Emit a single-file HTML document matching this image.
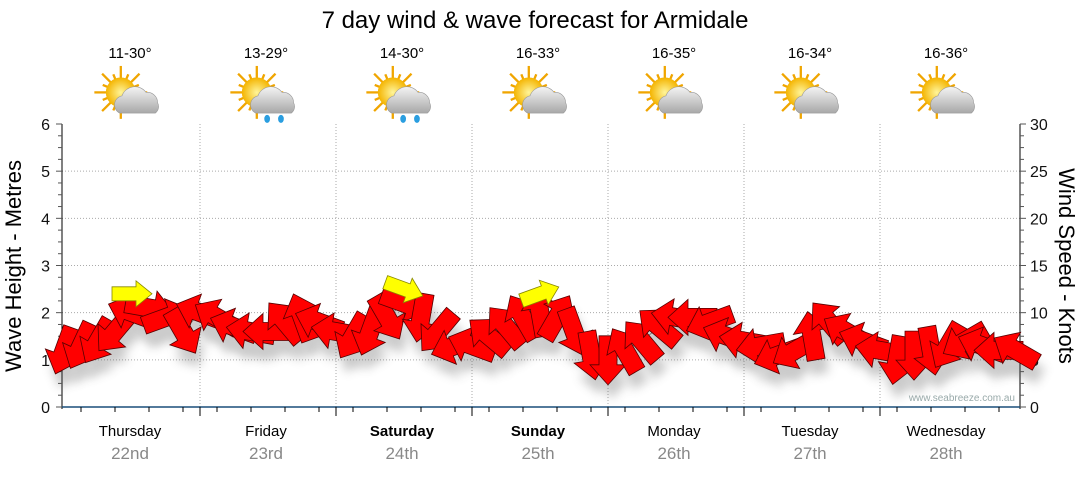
<!DOCTYPE html>
<html><head><meta charset="utf-8"><style>
body{margin:0;background:#fff;width:1080px;height:475px;overflow:hidden;font-family:"Liberation Sans","DejaVu Sans",sans-serif}
</style></head><body>
<svg id="c" width="1080" height="475" xmlns="http://www.w3.org/2000/svg" font-family="Liberation Sans, DejaVu Sans, sans-serif">
<defs><filter id="sh" x="-50%" y="-50%" width="200%" height="200%"><feGaussianBlur stdDeviation="5"/></filter>
<radialGradient id="sun" cx="50%" cy="50%" r="50%"><stop offset="0" stop-color="#fff59a"/><stop offset="1" stop-color="#f4b400"/></radialGradient>
<linearGradient id="cl" x1="0" y1="0" x2="0" y2="1"><stop offset="0" stop-color="#f4f4f4"/><stop offset="1" stop-color="#a8a8a8"/></linearGradient></defs>
<text x="535" y="28" font-size="24" text-anchor="middle" fill="#000">7 day wind &amp; wave forecast for Armidale</text>
</svg>
<script>
const days=["Thursday","Friday","Saturday","Sunday","Monday","Tuesday","Wednesday"];
const dates=["22nd","23rd","24th","25th","26th","27th","28th"];
const temps=["11-30°","13-29°","14-30°","16-33°","16-35°","16-34°","16-36°"];
const rain=[false,true,true,false,false,false,false];
const boldDays=[false,false,true,true,false,false,false];
const waveHeights=[1.2,1.3,1.4,1.6,2.0,2.1,1.9,1.6, 2.0,1.9,1.7,1.6,1.6,1.8,1.9,1.8, 1.6,1.5,1.6,1.9,2.2,1.9,1.6,1.3, 1.3,1.5,1.7,1.9,2.0,1.9,1.6,1.1, 1.0,1.2,1.4,1.7,1.9,1.9,1.8,1.5, 1.4,1.3,1.1,1.2,1.5,1.8,1.6,1.4, 1.2,1.0,1.1,1.2,1.3,1.4,1.3,1.2,1.2];
const windDirs=[110,115,120,130,200,10,340,60, 200,210,200,190,180,230,250,200, 190,120,110,60,20,100,130,160, 200,220,230,240,260,300,70,80, 90,240,230,220,190,180,160,200, 190,170,160,150,260,230,210,200, 190,100,90,80,120,150,200,180,210];
const swellTimes=[12,60,84];
const swellHeights=[2.4,2.5,2.4];
const swellDirs=[0,20,-20];
const leftTicks=[0,1,2,3,4,5,6];
const rightTicks=[0,5,10,15,20,25,30];

const NS="http://www.w3.org/2000/svg",svg=document.getElementById('c');
const X0=64,DAYW=136,Y0=407,YPX=283/6,PL=62,PR=1020,PT=124;
const x=h=>X0+h*DAYW/24, y=m=>Y0-m*YPX;
function el(t,a,p){const e=document.createElementNS(NS,t);for(const k in a)e.setAttribute(k,a[k]);(p||svg).appendChild(e);return e;}
function txt(s,a){const e=el('text',a);e.textContent=s;return e;}
for(let m=1;m<=5;m++){const g=el('line',{x1:PL,x2:PR,y1:y(m),y2:y(m),stroke:'#aaa','stroke-dasharray':'1,2'});}
for(let d=1;d<7;d++){const g=el('line',{x1:x(d*24),x2:x(d*24),y1:PT,y2:Y0,stroke:'#aaa','stroke-dasharray':'1,2'});}
el('line',{x1:PL,x2:PL,y1:PT,y2:Y0+2,stroke:'#000'});
el('line',{x1:PR,x2:PR,y1:PT,y2:Y0+2,stroke:'#000'});
el('line',{x1:PL,x2:PR,y1:Y0,y2:Y0,stroke:'#1a4f7a','stroke-width':1.5});
for(let i=0;i<=24;i++){const yy=y(i/4),w=i%4==0?6:4;el('line',{x1:PL-w,x2:PL,y1:yy,y2:yy,stroke:'#555'});el('line',{x1:PR,x2:PR+w,y1:yy,y2:yy,stroke:'#555'});}
leftTicks.forEach(v=>{const t=txt(v,{x:50,y:y(v)+6,'font-size':16,'text-anchor':'end',fill:'#111'});});
rightTicks.forEach(v=>{const t=txt(v,{x:1030,y:y(v/5)+6,'font-size':16,fill:'#111'});});
for(let h=3;h<168;h+=6){const xx=x(h);if(xx<PR)el('line',{x1:xx,x2:xx,y1:Y0,y2:Y0+5,stroke:'#000'});}
for(let d=1;d<7;d++)el('line',{x1:x(d*24),x2:x(d*24),y1:Y0,y2:Y0+9,stroke:'#000'});
const lt=txt('Wave Height - Metres',{transform:'translate(21,266) rotate(-90)','font-size':22,'text-anchor':'middle'});
const rt=txt('Wind Speed - Knots',{transform:'translate(1059,266) rotate(90)','font-size':22,'text-anchor':'middle'});
const wm=txt('www.seabreeze.com.au',{x:1015,y:401,'font-size':10,'text-anchor':'end',fill:'#9aa'});
days.forEach((d,i)=>{const cx=x(i*24+12)-2;
const a=txt(d,{x:cx,y:436,'font-size':15,'text-anchor':'middle','font-weight':boldDays[i]?'bold':'normal'});
const b=txt(dates[i],{x:cx,y:459,'font-size':17,'text-anchor':'middle',fill:'#888'});
const t=txt(temps[i],{x:cx,y:58,'font-size':15,'text-anchor':'middle'});
const g=el('g',{transform:`translate(${cx},97) scale(1.15)`});
for(let r=0;r<16;r++){const an=r*Math.PI/8,L=r%2?17:23;el('line',{x1:-8+Math.cos(an)*10,y1:-4+Math.sin(an)*10,x2:-8+Math.cos(an)*L,y2:-4+Math.sin(an)*L,stroke:'#f0a500','stroke-width':2},g);}
el('circle',{cx:-8,cy:-4,r:13,fill:'url(#sun)'},g);
el('path',{d:'M-9,14 a8,8 0 0 1 2,-15 a12,12 0 0 1 21,-3 a9,9 0 0 1 10,9 a7,7 0 0 1 -2,9 z',fill:'url(#cl)',stroke:'#999','stroke-width':0.5},g);
if(rain[i]){el('ellipse',{cx:1,cy:19,rx:2.5,ry:3.5,fill:'#2a9ee0'},g);el('ellipse',{cx:13,cy:19,rx:2.5,ry:3.5,fill:'#2a9ee0'},g);}
});
let pts=waveHeights.map((v,i)=>x(i*3)+','+y(v)).join(' ');
const wl=el('polyline',{points:pts,fill:'none',stroke:'#888','stroke-width':1});
const AR='M-24,-9 L5,-9 L5,-18 L25,0 L5,18 L5,9 L-24,9 Z';
const sg=el('g',{opacity:0.3});
waveHeights.forEach((v,i)=>{el('path',{d:AR,fill:'#555',filter:'url(#sh)',transform:`translate(${x(i*3)+4},${y(v)+14}) rotate(${windDirs[i]})`},sg);});
waveHeights.forEach((v,i)=>{const p=el('path',{d:AR,fill:'#ff0000',stroke:'#500','stroke-width':0.8,transform:`translate(${x(i*3)},${y(v)}) rotate(${windDirs[i]})`});
});
swellTimes.forEach((h,i)=>{const p=el('path',{d:'M-20,-7 L4,-7 L4,-13 L20,0 L4,13 L4,7 L-20,7 Z',fill:'#ffff00',stroke:'#880','stroke-width':0.8,transform:`translate(${x(h)},${y(swellHeights[i])}) rotate(${swellDirs[i]})`});
});
</script>
</body></html>
